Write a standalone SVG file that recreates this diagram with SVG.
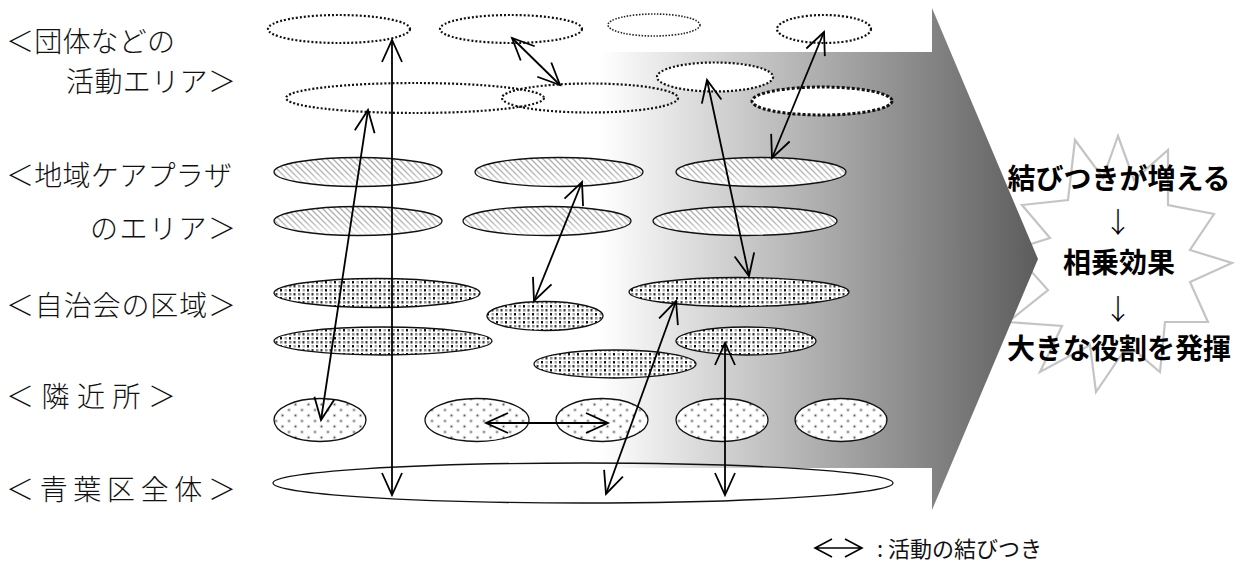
<svg xmlns="http://www.w3.org/2000/svg" width="1241" height="571" viewBox="0 0 1241 571">
<style>
.lbl{font-family:"Noto Sans CJK JP","Noto Sans CJK SC",sans-serif;font-size:28px;fill:#111;font-weight:300}
.res{font-family:"Noto Sans CJK JP","Noto Sans CJK SC",sans-serif;font-size:28px;fill:#000;font-weight:bold;text-anchor:middle}
.dn{font-family:"Noto Sans CJK JP","Noto Sans CJK SC",sans-serif;font-size:28px;fill:#000;text-anchor:middle;font-weight:300}
.leg{font-family:"Noto Sans CJK JP","Noto Sans CJK SC",sans-serif;font-size:22px;fill:#111}
.dot{fill:#fff;stroke:#111;stroke-width:2.2;stroke-dasharray:2 2}
.dotf{fill:#fff;stroke:#222;stroke-width:1.6;stroke-dasharray:1.5 1.5}
.dotb{fill:#fff;stroke:#111;stroke-width:3;stroke-dasharray:3 2}
.hat{fill:url(#pHatch);stroke:none}
.fade{fill:url(#gFade);stroke:none}
.dts{fill:url(#pDots);stroke:#111;stroke-width:1.3}
.blr{fill:url(#pBlur);stroke:#111;stroke-width:1.3}
.all{fill:none;stroke:#111;stroke-width:1.3}
.con{fill:none;stroke:#000;stroke-width:1.8;marker-start:url(#ah);marker-end:url(#ah)}
</style>
<defs>
<linearGradient id="gArrow" gradientUnits="userSpaceOnUse" x1="600" y1="0" x2="1038" y2="0">
<stop offset="0" stop-color="#ffffff"/>
<stop offset="1" stop-color="#5c5c5c"/>
</linearGradient>
<linearGradient id="gFade" x1="0" y1="0" x2="0" y2="1">
<stop offset="0" stop-color="#fff" stop-opacity="0.15"/>
<stop offset="0.55" stop-color="#fff" stop-opacity="0.25"/>
<stop offset="1" stop-color="#fff" stop-opacity="0.9"/>
</linearGradient>
<pattern id="pHatch" patternUnits="userSpaceOnUse" width="6" height="6">
<rect width="6" height="6" fill="#fff"/>
<path d="M-1,-1 L7,7 M-1,5 L1,7 M5,-1 L7,1" stroke="#a0a0a0" stroke-width="1.4"/>
</pattern>
<pattern id="pDots" patternUnits="userSpaceOnUse" width="9" height="8">
<rect width="9" height="8" fill="#fff"/>
<rect x="1" y="1" width="2" height="2.5" fill="#111"/>
<rect x="5.5" y="1" width="2.5" height="2.5" fill="#a8a8a8"/>
<rect x="1" y="5" width="2.5" height="2.5" fill="#8c8c8c"/>
<rect x="5.5" y="5" width="2" height="2.5" fill="#333"/>
</pattern>
<radialGradient id="gDot">
<stop offset="0" stop-color="#555"/>
<stop offset="1" stop-color="#ffffff" stop-opacity="0"/>
</radialGradient>
<pattern id="pBlur" patternUnits="userSpaceOnUse" width="13" height="11">
<rect width="13" height="11" fill="#fff"/>
<circle cx="3" cy="3" r="2.8" fill="url(#gDot)"/>
<circle cx="9.5" cy="8.5" r="2.8" fill="url(#gDot)"/>
</pattern>
<marker id="ah" markerUnits="userSpaceOnUse" markerWidth="26" markerHeight="26" viewBox="-24 -13 26 26" refX="0" refY="0" orient="auto-start-reverse" overflow="visible">
<path d="M-22,-10 L0,0 L-22,10" fill="none" stroke="#000" stroke-width="1.8"/>
</marker>
</defs>

<g id="burst">
<polygon points="1118,136 1134,180 1168,150 1168,205 1214,214 1190,250 1232,263 1190,282 1208,322 1165,322 1160,372 1128,345 1096,392 1090,345 1040,372 1062,326 1008,322 1048,290 1012,250 1050,238 1022,205 1068,200 1075,140 1103,178" fill="#fff" stroke="#c4c4c4" stroke-width="2.2" stroke-linejoin="miter"/>
</g>

<g id="big-arrow">
<polygon points="560,52 932,52 932,8 1038,259 932,510 932,468 560,468" fill="url(#gArrow)"/>
</g>

<g id="aoba"><ellipse class="all" cx="583" cy="483" rx="310" ry="20"/></g>

<g id="group-areas">
<ellipse id="g1" class="dot" cx="339" cy="29" rx="71" ry="14"/>
<ellipse id="g2" class="dot" cx="511" cy="29" rx="71" ry="14"/>
<ellipse id="g3" class="dotf" cx="654" cy="25" rx="46" ry="11"/>
<ellipse id="g4" class="dot" cx="824" cy="29" rx="47" ry="14"/>
<ellipse id="g5" class="dot" cx="415" cy="98" rx="129" ry="15"/>
<ellipse id="g6" class="dot" cx="590" cy="98" rx="88" ry="14.5" fill-opacity="0"/>
<ellipse id="g7" class="dot" cx="715" cy="77" rx="58" ry="14.5"/>
<ellipse id="g8" class="dotb" cx="822" cy="101" rx="70" ry="14"/>
</g>

<g id="plaza-areas">
<g id="p1"><ellipse class="hat" cx="358" cy="172" rx="84" ry="14.5"/><ellipse class="fade" cx="358" cy="172" rx="84" ry="14.5"/><ellipse class="all" cx="358" cy="172" rx="84" ry="14.5"/></g>
<g id="p2"><ellipse class="hat" cx="559" cy="172" rx="84" ry="14.5"/><ellipse class="fade" cx="559" cy="172" rx="84" ry="14.5"/><ellipse class="all" cx="559" cy="172" rx="84" ry="14.5"/></g>
<g id="p3"><ellipse class="hat" cx="761" cy="172" rx="85" ry="14.5"/><ellipse class="fade" cx="761" cy="172" rx="85" ry="14.5"/><ellipse class="all" cx="761" cy="172" rx="85" ry="14.5"/></g>
<g id="p4"><ellipse class="hat" cx="358" cy="221" rx="84" ry="14.5"/><ellipse class="fade" cx="358" cy="221" rx="84" ry="14.5"/><ellipse class="all" cx="358" cy="221" rx="84" ry="14.5"/></g>
<g id="p5"><ellipse class="hat" cx="547" cy="221" rx="84" ry="14.5"/><ellipse class="fade" cx="547" cy="221" rx="84" ry="14.5"/><ellipse class="all" cx="547" cy="221" rx="84" ry="14.5"/></g>
<g id="p6"><ellipse class="hat" cx="745" cy="221" rx="92" ry="14.5"/><ellipse class="fade" cx="745" cy="221" rx="92" ry="14.5"/><ellipse class="all" cx="745" cy="221" rx="92" ry="14.5"/></g>
</g>

<g id="council-areas">
<ellipse id="c1" class="dts" cx="377" cy="293" rx="103" ry="14.5"/>
<ellipse id="c2" class="dts" cx="383" cy="341" rx="109" ry="14"/>
<ellipse id="c3" class="dts" cx="545" cy="316" rx="58" ry="14.5"/>
<ellipse id="c4" class="dts" cx="739" cy="292" rx="110" ry="14.5"/>
<ellipse id="c5" class="dts" cx="746" cy="341" rx="70" ry="14"/>
<ellipse id="c6" class="dts" cx="615" cy="364" rx="81" ry="14"/>
</g>

<g id="neighborhoods">
<ellipse id="n1" class="blr" cx="320" cy="420" rx="46" ry="21.5"/>
<ellipse id="n2" class="blr" cx="477" cy="420" rx="52" ry="21.5"/>
<ellipse id="n3" class="blr" cx="602" cy="420" rx="46" ry="21.5"/>
<ellipse id="n4" class="blr" cx="722" cy="420" rx="46" ry="21.5"/>
<ellipse id="n5" class="blr" cx="841" cy="420" rx="46" ry="21.5"/>
</g>

<g id="connectors">
<path class="con" d="M392,40 L392,495"/>
<path class="con" d="M368,110 L321,420"/>
<path class="con" d="M512,38 L560,85"/>
<path class="con" d="M824,32 L772,158"/>
<path class="con" d="M707,80 L749,276"/>
<path class="con" d="M582,182 L534,301"/>
<path class="con" d="M676,301 L606,494"/>
<path class="con" d="M725,343 L725,495"/>
<path class="con" d="M486,423 L608,423"/>
</g>

<g id="labels">
<text class="lbl" x="6" y="52" textLength="169" lengthAdjust="spacing">＜団体などの</text>
<text class="lbl" x="66" y="92" textLength="170" lengthAdjust="spacing">活動エリア＞</text>
<text class="lbl" x="6" y="186" textLength="226" lengthAdjust="spacing">＜地域ケアプラザ</text>
<text class="lbl" x="90" y="239" textLength="146" lengthAdjust="spacing">のエリア＞</text>
<text class="lbl" x="6" y="316" textLength="230" lengthAdjust="spacing">＜自治会の区域＞</text>
<text class="lbl" x="6" y="407" textLength="170" lengthAdjust="spacing">＜隣近所＞</text>
<text class="lbl" x="6" y="500" textLength="230" lengthAdjust="spacing">＜青葉区全体＞</text>
</g>

<g id="result">
<text class="res" x="1119" y="189">結びつきが増える</text>
<text class="dn" x="1118" y="233">↓</text>
<text class="res" x="1119" y="273">相乗効果</text>
<text class="dn" x="1118" y="320">↓</text>
<text class="res" x="1119" y="359">大きな役割を発揮</text>
</g>

<g id="legend">
<path d="M832,539 L815,548 L832,557 M815,548 L862,548 M845,539 L862,548 L845,557" fill="none" stroke="#000" stroke-width="1.6"/>
<text class="leg" x="877" y="557">: 活動の結びつき</text>
</g>
</svg>
